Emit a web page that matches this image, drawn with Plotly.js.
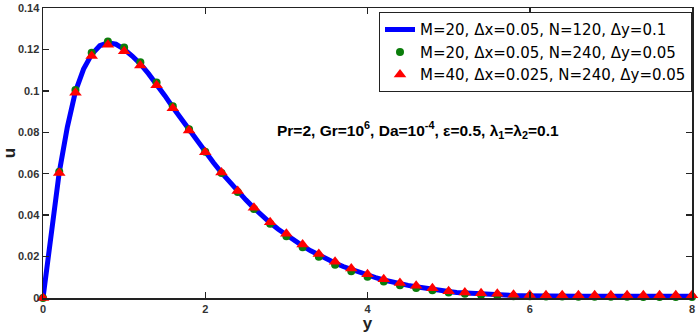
<!DOCTYPE html>
<html>
<head>
<meta charset="utf-8">
<script src="https://cdn.plot.ly/plotly-3.0.1.min.js"></script>
<style>html,body{margin:0;padding:0;background:#fff;}#chart{width:700px;height:333px;}</style>
</head>
<body>
<div id="chart"></div>
<script>
// Blue line: M=20, dx=0.05, N=120, dy=0.1
const xLine = [0,0.1,0.2,0.3,0.4,0.5,0.6,0.7,0.8,0.9,1.0,1.1,1.2,1.3,1.4,1.5,1.6,1.7,1.8,1.9,2.0,
  2.1,2.2,2.3,2.4,2.5,2.6,2.7,2.8,2.9,3.0,3.1,3.2,3.3,3.4,3.5,3.6,3.7,3.8,3.9,4.0,
  4.1,4.2,4.3,4.4,4.5,4.6,4.7,4.8,4.9,5.0,5.1,5.2,5.3,5.4,5.5,5.6,5.7,5.8,5.9,6.0,
  6.1,6.2,6.3,6.4,6.5,6.6,6.7,6.8,6.9,7.0,7.1,7.2,7.3,7.4,7.5,7.6,7.7,7.8,7.9,8.0];
const uLine = [0,0.0315,0.0606,0.0825,0.0997,0.1105,0.1176,0.1218,0.1232,0.1225,0.1201,
  0.1168,0.1130,0.1083,0.1033,0.0978,0.0921,0.0866,0.0811,0.0757,0.0705,
  0.0654,0.0605,0.0559,0.0515,0.0474,0.0434,0.0397,0.0363,0.0332,0.0304,
  0.0277,0.0252,0.0228,0.0207,0.0187,0.0169,0.0152,0.0137,0.0123,0.0110,
  0.0098,0.0087,0.0077,0.0069,0.0061,0.0054,0.0047,0.0042,0.0036,0.0031,
  0.0027,0.0024,0.0021,0.0018,0.0016,0.0014,0.0013,0.0012,0.0011,0.0010,
  0.0010,0.0010,0.0009,0.0009,0.0009,0.0009,0.0009,0.0009,0.0009,0.0009,
  0.0009,0.0009,0.0009,0.0009,0.0009,0.0009,0.0009,0.0009,0.0009,0.0009];

// Marker series (every 0.2)
const xMark = [0,0.2,0.4,0.6,0.8,1.0,1.2,1.4,1.6,1.8,2.0,2.2,2.4,2.6,2.8,3.0,3.2,3.4,3.6,3.8,4.0,
  4.2,4.4,4.6,4.8,5.0,5.2,5.4,5.6,5.8,6.0,6.2,6.4,6.6,6.8,7.0,7.2,7.4,7.6,7.8,8.0];
// Green circles: M=20, dx=0.05, N=240, dy=0.05
const uGreen = [0,0.0610,0.1004,0.1184,0.1238,0.1209,0.1138,0.1040,0.0926,0.0815,0.0706,
  0.0604,0.0512,0.0430,0.0358,0.0298,0.0245,0.0199,0.0161,0.0129,0.0102,
  0.0080,0.0062,0.0048,0.0037,0.0026,0.0020,0.0015,0.0012,0.0009,0.0008,
  0.0007,0.0007,0.0006,0.0006,0.0006,0.0006,0.0005,0.0005,0.0005,0.0005];
// Red triangles: M=40, dx=0.025, N=240, dy=0.05
const uRed = [0,0.0603,0.0991,0.1168,0.1223,0.1191,0.1123,0.1027,0.0916,0.0809,0.0704,
  0.0606,0.0517,0.0436,0.0366,0.0310,0.0258,0.0213,0.0175,0.0142,0.0115,
  0.0091,0.0072,0.0059,0.0047,0.0033,0.0027,0.0023,0.0020,0.0016,0.0014,
  0.0013,0.0013,0.0013,0.0013,0.0013,0.0013,0.0013,0.0013,0.0013,0.0013];

const names = ['M=20, \u0394x=0.05, N=120, \u0394y=0.1',
               'M=20, \u0394x=0.05, N=240, \u0394y=0.05',
               'M=40, \u0394x=0.025, N=240, \u0394y=0.05'];
const xTicks = [0,2,4,6,8];
const yTicks = [0,0.02,0.04,0.06,0.08,0.1,0.12,0.14];
const paramText = 'Pr=2, Gr=10<sup>6</sup>, Da=10<sup>-4</sup>, \u03b5=0.5, \u03bb<sub>1</sub>=\u03bb<sub>2</sub>=0.1';

const traces = [
  {x: xLine, y: uLine, type: 'scatter', mode: 'lines', name: names[0],
   line: {color: '#0000ff', width: 5}, cliponaxis: false},
  {x: xMark, y: uGreen, type: 'scatter', mode: 'markers', name: names[1],
   marker: {color: '#0b7d0b', size: 8, symbol: 'circle'}, cliponaxis: false},
  {x: xMark, y: uRed, type: 'scatter', mode: 'markers', name: names[2],
   marker: {color: '#ff0000', size: 11, symbol: 'triangle-up'}, cliponaxis: false}
];

const axisCommon = {
  showline: true, linecolor: '#222', linewidth: 1.5, mirror: 'ticks',
  ticks: 'inside', ticklen: 6, tickwidth: 1.5, tickcolor: '#222',
  showgrid: false, zeroline: false,
  tickfont: {family: 'Arial, Liberation Sans', size: 11, color: '#333', weight: 'bold'}
};

const layout = {
  width: 700, height: 333,
  margin: {l: 43, r: 8, t: 8, b: 35},
  paper_bgcolor: '#fff', plot_bgcolor: '#fff',
  showlegend: true,
  xaxis: Object.assign({}, axisCommon, {
    range: [0, 8], tickvals: xTicks,
    title: {text: 'y', font: {family: 'Arial, Liberation Sans', size: 17, color: '#222', weight: 'bold'}, standoff: 4}
  }),
  yaxis: Object.assign({}, axisCommon, {
    range: [0, 0.14], tickvals: yTicks,
    title: {text: 'u', font: {family: 'Arial, Liberation Sans', size: 17, color: '#222', weight: 'bold'}, standoff: 2}
  }),
  legend: {
    x: 1, xanchor: 'right', y: 0.985, yanchor: 'top',
    bgcolor: '#fff', bordercolor: '#222', borderwidth: 1,
    font: {family: 'DejaVu Sans', size: 15, color: '#000'},
    tracegroupgap: 0, itemwidth: 30
  },
  annotations: [{
    x: 4.62, y: 0.0811, xref: 'x', yref: 'y', showarrow: false,
    text: paramText,
    font: {family: 'Arial, Liberation Sans', size: 15.5, color: '#000', weight: 'bold'}
  }]
};

Plotly.newPlot('chart', traces, layout, {displayModeBar: false, staticPlot: true});
</script>
</body>
</html>
